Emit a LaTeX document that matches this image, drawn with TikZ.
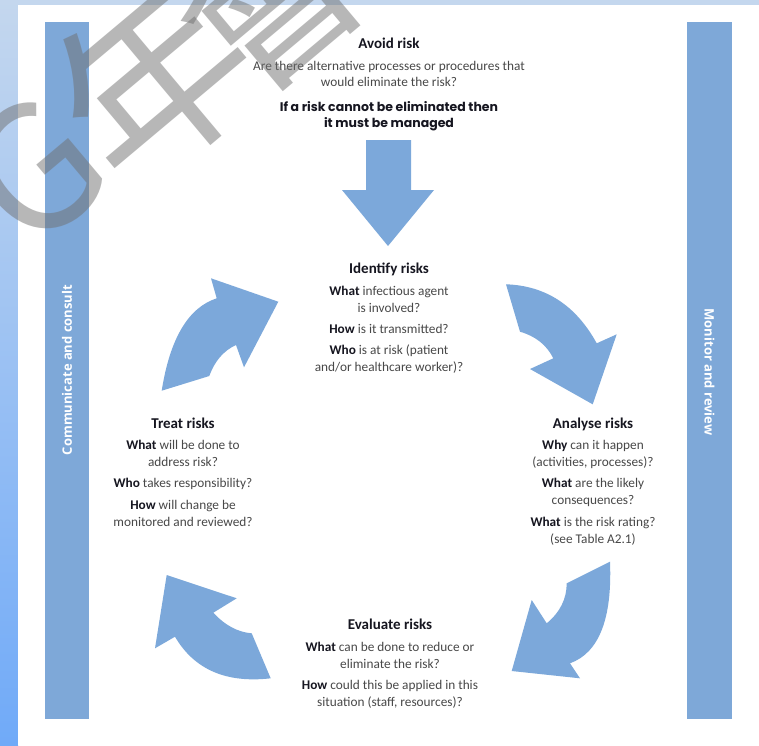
\documentclass[tikz,border=0pt]{standalone}
\usepackage{fontspec}
\setmainfont{Carlito}
\newfontfamily\barfont{Open Sans}
\newfontfamily\geofont{Poppins}
\newfontfamily\cjkfont{Noto Sans CJK SC}
\definecolor{barblue}{HTML}{7EA8D8}
\definecolor{arrowblue}{HTML}{7CA8DA}
\definecolor{bodygrey}{HTML}{484848}
\definecolor{headblack}{HTML}{161620}
\definecolor{stripblue}{HTML}{C4D7EE}
\definecolor{wmgrey}{HTML}{707070}
\newcommand{\kw}[1]{{\color{headblack}\bfseries #1}}
\tikzset{
  body/.style={font=\fontsize{13.3}{15}\selectfont, text=bodygrey, anchor=base, inner sep=0pt},
  head/.style={font=\fontsize{15}{17}\selectfont\bfseries, text=headblack, anchor=base, inner sep=0pt},
  geo/.style={font=\fontsize{12.5}{15}\selectfont\geofont\bfseries, text=headblack, anchor=base, inner sep=0pt},
  bartext/.style={font=\fontsize{13}{15}\selectfont\barfont\bfseries, text=white, inner sep=0pt},
  blockarrow/.style={fill=arrowblue},
  wm/.style={text=wmgrey, opacity=0.5, rotate=40, inner sep=0pt}
}
\begin{document}
\begin{tikzpicture}[x=1pt,y=-1pt]
\useasboundingbox (0,0) rectangle (759,745);
% background
\fill[stripblue] (0,0) rectangle (759,5);
\shade[top color=stripblue, bottom color={rgb,255:red,112;green,170;blue,248}] (0,0) rectangle (18,745);
\fill[white] (18,5) rectangle (759,745);
% bars
\fill[barblue] (45,22) rectangle (89,719);
\fill[barblue] (687,22) rectangle (732,719);
\node[bartext, rotate=90] (lbar) at (67,370) {Communicate and consult};
\node[bartext, rotate=-90] (rbar) at (709.5,372) {Monitor and review};
% down arrow
\fill[blockarrow] (366,140) -- (411,140) -- (411,190) -- (434,190) -- (388,246) -- (342,190) -- (366,190) -- cycle;
% curved arrows
\fill[blockarrow] (161.7,390.7) -- (209.3,376) .. controls (214.7,361) and (223.6,350.7) .. (236,345) -- (244,367.3) -- (278.3,301.7) -- (211,278.3) -- (216.7,298.3) .. controls (188.4,307.5) and (170.0,338.3) .. (161.7,390.7) -- cycle;
\fill[blockarrow] (506,284.3) -- (520,331.7) .. controls (535.6,336.2) and (546.7,345) .. (553.3,358.3) -- (530,369) -- (592.7,404.3) -- (616.7,334.3) -- (596.7,343.3) .. controls (575.8,305.2) and (545.5,285.6) .. (506,284.3) -- cycle;
\fill[blockarrow] (610,561.7) -- (566.7,583.3) .. controls (566.7,598.9) and (560,612.2) .. (546.7,623.3) -- (531.7,600) -- (511.7,671) -- (580,678.3) -- (570,663.3) .. controls (598.9,652.8) and (612.3,618.9) .. (610,561.7) -- cycle;
\fill[blockarrow] (270.7,678.3) -- (251.7,633.3) .. controls (237.8,632.2) and (225,625.3) .. (213.3,612.7) -- (236.7,598.3) -- (166.7,575) -- (155,648.3) -- (175,636.7) .. controls (194.2,669.5) and (226.1,683.4) .. (270.7,678.3) -- cycle;
% Avoid risk
\node[head] (avh) at (389,48) {Avoid risk};
\node[body] (av1) at (389,70) {Are there alternative processes or procedures that};
\node[body] (av2) at (389,86) {would eliminate the risk?};
\node[geo] (av3) at (389,111) {If a risk cannot be eliminated then};
\node[geo] (av4) at (389,127) {it must be managed};
% Identify
\node[head] (idh) at (389,273) {Identify risks};
\node[body] (id1) at (389,295) {\kw{What} infectious agent};
\node[body] (id2) at (389,312) {is involved?};
\node[body] (id3) at (389,333) {\kw{How} is it transmitted?};
\node[body] (id4) at (389,354) {\kw{Who} is at risk (patient};
\node[body] (id5) at (389,371) {and/or healthcare worker)?};
% Analyse
\node[head] (anh) at (593,428) {Analyse risks};
\node[body] (an1) at (593,449) {\kw{Why} can it happen};
\node[body] (an2) at (593,466) {(activities, processes)?};
\node[body] (an3) at (593,487) {\kw{What} are the likely};
\node[body] (an4) at (593,504) {consequences?};
\node[body] (an5) at (593,526) {\kw{What} is the risk rating?};
\node[body] (an6) at (593,543) {(see Table A2.1)};
% Treat
\node[head] (trh) at (183,428) {Treat risks};
\node[body] (tr1) at (183,449) {\kw{What} will be done to};
\node[body] (tr2) at (183,466) {address risk?};
\node[body] (tr3) at (183,487) {\kw{Who} takes responsibility?};
\node[body] (tr4) at (183,509) {\kw{How} will change be};
\node[body] (tr5) at (183,526) {monitored and reviewed?};
% Evaluate
\node[head] (evh) at (390,629) {Evaluate risks};
\node[body] (ev1) at (390,651) {\kw{What} can be done to reduce or};
\node[body] (ev2) at (390,668) {eliminate the risk?};
\node[body] (ev3) at (390,689) {\kw{How} could this be applied in this};
\node[body] (ev4) at (390,706) {situation (staff, resources)?};
% watermark
\node[wm, font=\fontsize{172}{172}\selectfont\cjkfont] (wmg) at (34,170) {G};
\node[wm, font=\fontsize{190}{190}\selectfont\cjkfont] (wm1) at (153,80) {年};
\node[wm, font=\fontsize{180}{180}\selectfont\cjkfont] (wm2) at (268,-4) {會};
\end{tikzpicture}
\end{document}
